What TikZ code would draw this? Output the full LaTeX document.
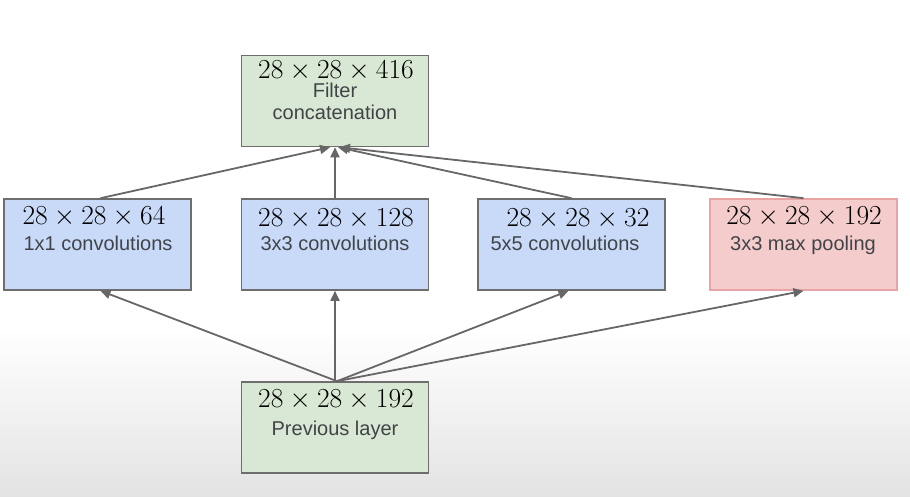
\RequirePackage{fix-cm}
\documentclass[tikz,border=0pt]{standalone}
\usepackage{fontspec}
\setmainfont{Liberation Sans}
\usetikzlibrary{arrows.meta,calc}
\definecolor{greenfill}{HTML}{D9E8D4}
\definecolor{bluefill}{HTML}{C9DAF8}
\definecolor{redfill}{HTML}{F4CCCC}
\definecolor{redline}{HTML}{E8A3A3}
\definecolor{boxline}{HTML}{6E6E6E}
\definecolor{arrowc}{HTML}{676767}
\definecolor{labelc}{HTML}{404448}
\tikzset{
  box/.style={draw=boxline, line width=1.6pt, minimum width=187pt, minimum height=91pt, inner sep=0pt},
  gbox/.style={box, fill=greenfill},
  bbox/.style={box, fill=bluefill},
  rbox/.style={box, fill=redfill, draw=redline},
  dims/.style={anchor=base, inner sep=0pt, font=\fontsize{27.5}{28}\selectfont},
  lbl/.style={anchor=base, inner sep=0pt, text=labelc, font=\fontsize{20}{22}\selectfont},
  conn/.style={draw=arrowc, line width=1.8pt, -{Triangle[length=10pt,width=9pt]}}
}
\begin{document}
\begin{tikzpicture}[x=1pt,y=-1pt]
\useasboundingbox (0,0) rectangle (910,497);
\shade[top color=white, bottom color=black!11] (0,330) rectangle (910,497);
% boxes
\node[gbox] (top) at (335,101) {};
\node[bbox] (b1) at (97.5,244.5) {};
\node[bbox] (b2) at (335,244.5) {};
\node[bbox] (b3) at (571.5,244.5) {};
\node[rbox] (b4) at (803.5,244.5) {};
\node[gbox] (prev) at (335,427.5) {};
% texts
\node[dims] (tdim) at (336,79) {$28\times28\times416$};
\node[lbl] (tl1) at (335,98) {Filter};
\node[lbl] (tl2) at (335,120) {concatenation};
\node[dims] (d1) at (94,225) {$28\times28\times64$};
\node[lbl] (l1) at (98,251) {1x1 convolutions};
\node[dims] (d2) at (336,226) {$28\times28\times128$};
\node[lbl] (l2) at (335,251) {3x3 convolutions};
\node[dims] (d3) at (578,226) {$28\times28\times32$};
\node[lbl] (l3) at (565,251) {5x5 convolutions};
\node[dims] (d4) at (804,225) {$28\times28\times192$};
\node[lbl] (l4) at (803,251) {3x3 max pooling};
\node[dims] (d5) at (336,407) {$28\times28\times192$};
\node[lbl] (l5) at (335,435) {Previous layer};
% connectors bottom
\draw[conn] ([xshift=2pt]prev.north) -- ([xshift=3pt]b1.south);
\draw[conn] (prev.north) -- (b2.south);
\draw[conn] ([xshift=2pt]prev.north) -- ([xshift=-3pt]b3.south);
\draw[conn] ([xshift=2pt]prev.north) -- (b4.south);
% connectors top
\draw[conn] ([xshift=3pt]b1.north) -- ([xshift=-5pt]top.south);
\draw[conn] (b2.north) -- (top.south);
\draw[conn] (b3.north) -- ([xshift=3pt]top.south);
\draw[conn] (b4.north) -- ([xshift=5pt]top.south);
\end{tikzpicture}
\end{document}
